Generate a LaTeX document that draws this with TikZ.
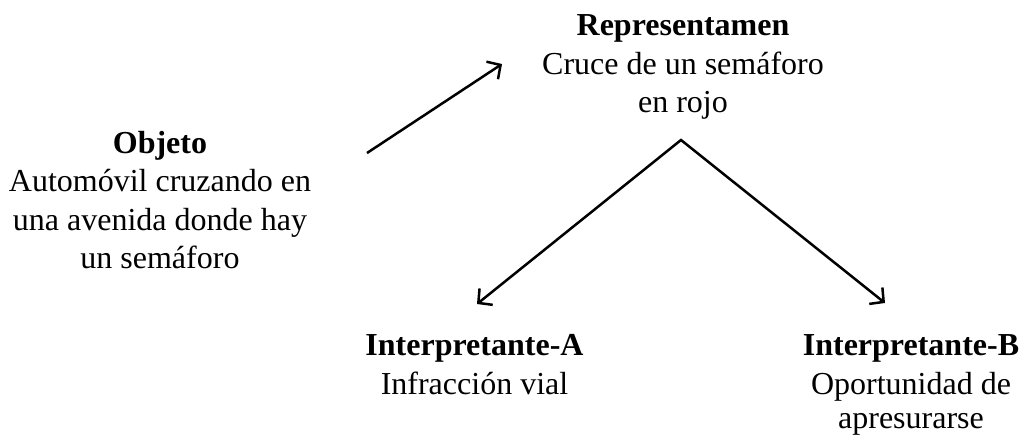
\documentclass[tikz,border=0pt]{standalone}
\usepackage{fontspec}
\setmainfont{Liberation Serif}
\usetikzlibrary{arrows.meta,positioning}

\begin{document}
\begin{tikzpicture}[x=0.5pt,y=-0.5pt,>={Straight Barb[length=5pt,width=10.5pt]},line width=1.25pt,
		every node/.style={align=center,inner sep=0pt,font=\fontsize{16}{19.2}\selectfont},
		sign/.style={anchor=north}]
	\useasboundingbox (0,0) rectangle (1023,435);
	\node[sign] (objeto) at (160,130) {\textbf{Objeto}\\Automóvil cruzando en\\una avenida donde hay\\un semáforo};
	\node[sign] (repr) at (683,13.5) {\textbf{Representamen}\\Cruce de un semáforo\\en rojo};
	\node[sign] (int_a) at (474.5,333.5) {\textbf{Interpretante-A}\\Infracción vial};
	\node[sign] (int_b) at (911,333.5) {\textbf{Interpretante-B}\\Oportunidad de\\[-2pt]apresurarse};
	\coordinate (obj_out) at (367,153);
	\coordinate (repr_in) at (502,64);
	\coordinate (repr_out) at (681,140);
	\coordinate (int_a_in) at (477,304);
	\coordinate (int_b_in) at (885,303);
	\draw[->] (obj_out) -- (repr_in);
	\draw[<->] (int_a_in) -- (repr_out) -- (int_b_in);
\end{tikzpicture}
\end{document}
